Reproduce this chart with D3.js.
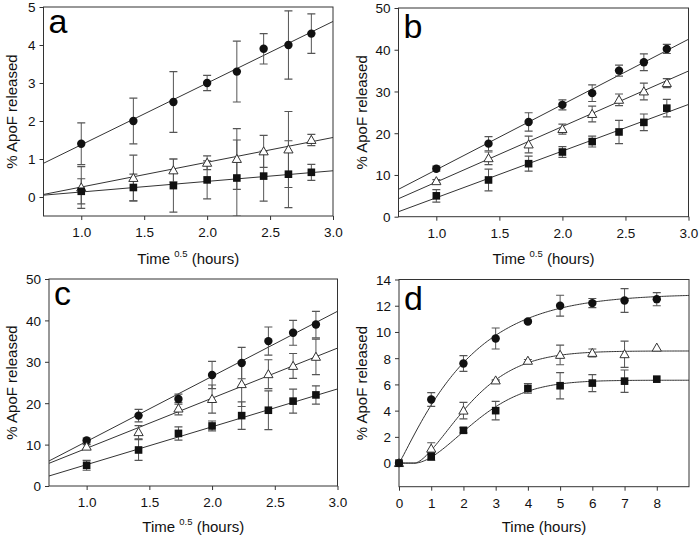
<!DOCTYPE html>
<html>
<head>
<meta charset="utf-8">
<script src="https://cdn.jsdelivr.net/npm/d3@7"></script>
<style>
  html, body { margin: 0; padding: 0; background: #fff; }
  svg { display: block; font-family: "Liberation Sans", Arial, sans-serif; }
</style>
</head>
<body>
<svg id="chart" width="699" height="537"></svg>
<script>
// ---------- DATA ----------
const sqrtTime = [1.0, 1.414, 1.732, 2.0, 2.236, 2.449, 2.646, 2.828];
const hours = [0, 1, 2, 3, 4, 5, 6, 7, 8];

// Panel a
const aCircle = [1.4, 2.0, 2.5, 3.0, 3.3, 3.9, 4.0, 4.3];
const aCircleErr = [0.55, 0.6, 0.8, 0.2, 0.8, 0.4, 0.9, 0.52];
const aTriangle = [0.25, 0.5, 0.7, 0.9, 1.0, 1.2, 1.25, 1.5];
const aTriangleErr = [0.55, 0.6, 0.3, 0.18, 0.8, 0.42, 1.0, 0.15];
const aSquare = [0.15, 0.25, 0.3, 0.45, 0.5, 0.55, 0.6, 0.65];
const aSquareErr = [0.33, 0.35, 0.7, 0.5, 1.0, 0.66, 0.88, 0.21];
const aFitSlope = [1.623, 0.652, 0.279];      // circle, triangle, square
const aFitIntercept = [-0.249, -0.39, -0.147];

// Panel b
const bCircle = [11.5, 17.5, 22.7, 26.8, 29.6, 35.0, 37.0, 40.2];
const bCircleErr = [0.6, 1.7, 2.2, 1.2, 2.0, 1.3, 2.0, 1.1];
const bTriangle = [8.5, 14.0, 17.3, 21.0, 24.6, 28.0, 30.0, 32.0];
const bTriangleErr = [0.4, 1.5, 2.0, 1.2, 1.9, 1.4, 2.0, 1.1];
const bSquare = [5.0, 8.8, 12.7, 15.5, 18.0, 20.3, 22.6, 26.0];
const bSquareErr = [1.5, 2.6, 1.8, 1.3, 1.3, 2.8, 2.0, 2.1];
const bFitSlope = [15.63, 13.3, 11.17];
const bFitIntercept = [-4.38, -5.0, -6.62];

// Panel c
const cCircle = [11.0, 17.0, 21.0, 26.8, 29.7, 35.0, 37.0, 39.0];
const cCircleErr = [0.6, 1.5, 1.2, 3.3, 3.8, 3.4, 3.0, 3.2];
const cTriangle = [9.5, 13.0, 18.7, 21.0, 24.6, 27.0, 29.0, 31.2];
const cTriangleErr = [0.5, 1.6, 1.5, 3.4, 5.4, 3.5, 3.0, 4.3];
const cSquare = [5.0, 8.7, 12.7, 14.5, 17.0, 18.3, 20.5, 22.0];
const cSquareErr = [1.2, 2.5, 1.6, 1.2, 3.3, 4.7, 2.9, 2.2];
const cFitSlope = [15.72, 12.1, 9.14];
const cFitIntercept = [-4.96, -2.99, -3.98];

// Panel d
const dCircle = [0, 4.85, 7.6, 9.5, 10.8, 12.0, 12.2, 12.4, 12.5];
const dCircleErr = [0, 0.53, 0.6, 0.8, 0.1, 0.8, 0.35, 0.9, 0.5];
const dTriangle = [0, 1.1, 4.0, 6.3, 7.8, 8.25, 8.4, 8.3, 8.8];
const dTriangleErr = [0, 0.45, 0.63, 0.05, 0.1, 0.75, 0.3, 1.0, 0];
const dSquare = [0, 0.5, 2.5, 4.0, 5.7, 5.9, 6.1, 6.25, 6.4];
const dSquareErr = [0, 0.3, 0.2, 0.7, 0.37, 1.0, 0.65, 0.85, 0];
// Weibull-type fit y = A*(1-exp(-((t-t0)/B)^C))
const dFitA = [12.9, 8.55, 6.32];
const dFitB = [2.2, 2.04, 2.315];
const dFitC = [1.1, 1.5, 1.7];
const dFitT0 = [0, 0.5, 0.5];

// Tick labels
const tickSqrt = [1.0, 1.5, 2.0, 2.5, 3.0];
const tickA = [0, 1, 2, 3, 4, 5];
const tickBC = [0, 10, 20, 30, 40, 50];
const tickDy = [0, 2, 4, 6, 8, 10, 12, 14];
const tickDx = [0, 1, 2, 3, 4, 5, 6, 7, 8];

// ---------- DRAW ----------
const svg = d3.select("#chart");
const FRAME = "#333";
const BAR = "#555";
const INK = "#111";

const panels = [
  { letter: "a", L: 43.5, R: 333, T: 7, B: 216, xd: [0.7, 3.0], yd: [-0.5, 5], xs: sqrtTime, xt: tickSqrt, yt: tickA,
    xfmt: d3.format(".1f"), series: [[aCircle, aCircleErr], [aTriangle, aTriangleErr], [aSquare, aSquareErr]],
    fit: "lin", slope: aFitSlope, icpt: aFitIntercept, ytitleX: 12, xtitleY: 264, sqrtTitle: true, letterY: 33 },
  { letter: "b", L: 398.5, R: 688.5, T: 8, B: 216.7, xd: [0.7, 3.0], yd: [0, 50], xs: sqrtTime, xt: tickSqrt, yt: tickBC,
    xfmt: d3.format(".1f"), series: [[bCircle, bCircleErr], [bTriangle, bTriangleErr], [bSquare, bSquareErr]],
    fit: "lin", slope: bFitSlope, icpt: bFitIntercept, ytitleX: 362, xtitleY: 264, sqrtTitle: true, letterY: 38 },
  { letter: "c", L: 49, R: 337.5, T: 279, B: 486, xd: [0.7, 3.0], yd: [0, 50], xs: sqrtTime, xt: tickSqrt, yt: tickBC,
    xfmt: d3.format(".1f"), series: [[cCircle, cCircleErr], [cTriangle, cTriangleErr], [cSquare, cSquareErr]],
    fit: "lin", slope: cFitSlope, icpt: cFitIntercept, ytitleX: 12, xtitleY: 532, sqrtTitle: true, letterY: 305 },
  { letter: "d", L: 399, R: 689, T: 279.5, B: 486.7, xd: [0, 9], yd: [-1.8, 14], xs: hours, xt: tickDx, yt: tickDy,
    xfmt: d3.format("d"), series: [[dCircle, dCircleErr], [dTriangle, dTriangleErr], [dSquare, dSquareErr]],
    fit: "weib", ytitleX: 362, xtitleY: 532, sqrtTitle: false, letterY: 310 }
];

const shapes = ["circle", "triangle", "square"];

panels.forEach((p, pi) => {
  const x = d3.scaleLinear().domain(p.xd).range([p.L, p.R]);
  const y = d3.scaleLinear().domain(p.yd).range([p.B, p.T]);
  const g = svg.append("g");

  const clipId = "clip" + pi;
  svg.append("clipPath").attr("id", clipId).append("rect")
    .attr("x", p.L).attr("y", p.T).attr("width", p.R - p.L).attr("height", p.B - p.T);

  // axes
  const xAxis = d3.axisBottom(x).tickValues(p.xt).tickFormat(p.xfmt).tickSize(4).tickSizeOuter(0);
  const yAxis = d3.axisLeft(y).tickValues(p.yt).tickFormat(d3.format("d")).tickSize(4).tickSizeOuter(0);
  const gx = g.append("g").attr("transform", `translate(0,${p.B})`).call(xAxis);
  const gy = g.append("g").attr("transform", `translate(${p.L},0)`).call(yAxis);
  [gx, gy].forEach(a => {
    a.select(".domain").remove();
    a.selectAll(".tick line").attr("stroke", FRAME).attr("stroke-width", 1);
    a.selectAll(".tick text").attr("fill", INK).style("font-size", "13.5px")
      .style("font-family", "'Liberation Sans', Arial, sans-serif");
  });
  gx.selectAll(".tick text").attr("dy", "0").attr("y", 21);
  gy.selectAll(".tick text").attr("x", -8).attr("dy", "0.36em");

  // frame
  g.append("rect").attr("x", p.L).attr("y", p.T).attr("width", p.R - p.L).attr("height", p.B - p.T)
    .attr("fill", "none").attr("stroke", FRAME).attr("stroke-width", 1);

  const plot = g.append("g").attr("clip-path", `url(#${clipId})`);

  // fits
  if (p.fit === "lin") {
    p.slope.forEach((m, i) => {
      const b = p.icpt[i];
      plot.append("line")
        .attr("x1", x(p.xd[0])).attr("y1", y(m * p.xd[0] + b))
        .attr("x2", x(p.xd[1])).attr("y2", y(m * p.xd[1] + b))
        .attr("stroke", "#333").attr("stroke-width", 1);
    });
  } else {
    const ts = d3.range(0, 9.0001, 0.05);
    dFitA.forEach((A, i) => {
      const f = t => t <= dFitT0[i] ? 0 : A * (1 - Math.exp(-Math.pow((t - dFitT0[i]) / dFitB[i], dFitC[i])));
      const line = d3.line().x(t => x(t)).y(t => y(f(t)));
      plot.append("path").attr("d", line(ts)).attr("fill", "none")
        .attr("stroke", "#333").attr("stroke-width", 1);
    });
  }

  // error bars
  const eb = g.append("g").attr("clip-path", `url(#${clipId})`);
  p.series.forEach(([vals, errs]) => {
    vals.forEach((v, j) => {
      const e = errs[j];
      if (!e) return;
      const cx = x(p.xs[j]);
      const y1 = y(v - e), y2 = y(v + e);
      eb.append("line").attr("x1", cx).attr("x2", cx).attr("y1", y1).attr("y2", y2)
        .attr("stroke", BAR).attr("stroke-width", 1);
      [y1, y2].forEach(yy => eb.append("line").attr("x1", cx - 4).attr("x2", cx + 4)
        .attr("y1", yy).attr("y2", yy).attr("stroke", BAR).attr("stroke-width", 1.2));
    });
  });

  // markers (draw squares, triangles, circles)
  p.series.forEach(([vals], si) => {
    const shape = shapes[si];
    vals.forEach((v, j) => {
      const cx = x(p.xs[j]), cy = y(v);
      if (shape === "circle") {
        g.append("circle").attr("cx", cx).attr("cy", cy).attr("r", 4.2).attr("fill", INK);
      } else if (shape === "square") {
        g.append("rect").attr("x", cx - 3.8).attr("y", cy - 3.8).attr("width", 7.6).attr("height", 7.6).attr("fill", INK);
      } else {
        const s = 4.6;
        g.append("path").attr("d", `M${cx},${cy - s}L${cx + s},${cy + s * 0.75}L${cx - s},${cy + s * 0.75}Z`)
          .attr("fill", "#fff").attr("stroke", "#333").attr("stroke-width", 1);
      }
    });
  });

  // panel letter
  g.append("text").attr("x", p.L + 5).attr("y", p.letterY).text(p.letter)
    .style("font-size", "34px").attr("fill", "#000");

  // y title
  g.append("text")
    .attr("transform", `translate(${p.ytitleX + 5},${(p.T + p.B) / 2}) rotate(-90)`)
    .attr("text-anchor", "middle").style("font-size", "15px").attr("fill", INK)
    .text("% ApoF released");

  // x title
  const xt = g.append("text").attr("x", (p.L + p.R) / 2).attr("y", p.xtitleY)
    .attr("text-anchor", "middle").style("font-size", "15px").attr("fill", INK);
  if (p.sqrtTitle) {
    xt.append("tspan").text("Time ");
    xt.append("tspan").text("0.5").style("font-size", "9.5px").attr("dy", -7);
    xt.append("tspan").text(" (hours)").attr("dy", 7);
  } else {
    xt.text("Time (hours)");
  }
});
</script>
</body>
</html>
